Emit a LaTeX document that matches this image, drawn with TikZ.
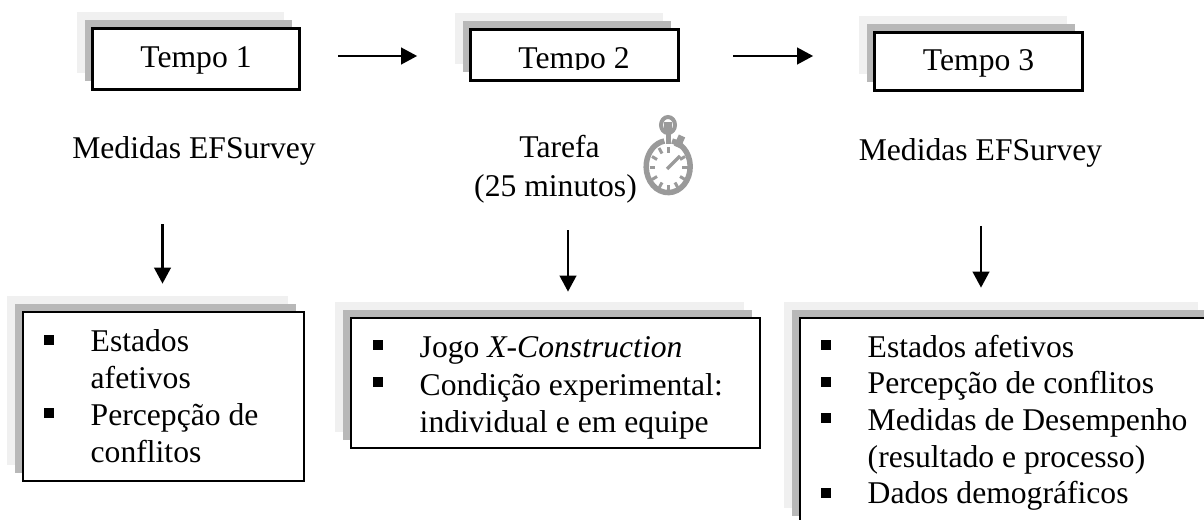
\documentclass[tikz,border=0pt]{standalone}
\usepackage{fontspec}
\setmainfont{Liberation Serif}
\usetikzlibrary{arrows.meta,shadows}

\definecolor{cinzaclaro}{HTML}{F0F0F0}
\definecolor{cinzaescuro}{HTML}{B8B8B8}
\definecolor{cinzarelogio}{HTML}{9A9A9A}

\tikzset{
  caixa/.style={draw=black, fill=white, line width=.027cm, inner sep=0pt,
    general shadow={fill=cinzaclaro, shadow xshift=-.16cm, shadow yshift=.16cm},
    general shadow={fill=cinzaescuro, shadow xshift=-.08cm, shadow yshift=.08cm}},
  rotulo/.style={anchor=base, inner sep=0pt, font=\fontsize{9}{10.4}\selectfont},
  item/.style={anchor=base west, inner sep=0pt, align=left, font=\fontsize{9}{10.4}\selectfont},
  bala/.style={fill=black, inner sep=0pt, minimum size=.1cm},
  seta/.style={-{Triangle[length=.16cm,width=.165cm]}, line width=.025cm},
  relogio/.style={draw=cinzarelogio, line width=.03cm}
}

\begin{document}
\begin{tikzpicture}
\clip (0,0) rectangle (12.04,-5.2);

%Tempos
\node (t1) [caixa, minimum width=2.07cm, minimum height=.61cm] at (1.96,-.59) {};
\node (t2) [caixa, minimum width=2.08cm, minimum height=.51cm] at (5.745,-.55) {};
\node (t3) [caixa, minimum width=2.08cm, minimum height=.58cm] at (9.785,-.615) {};

\node (r1) [rotulo] at (1.96,-.68) {Tempo 1};
\begin{scope}
\clip (t2.north west) rectangle ([yshift=.12cm]t2.south east);
\node (r2) [rotulo] at (5.74,-.69) {Tempo 2};
\end{scope}
\node (r3) [rotulo] at (9.785,-.71) {Tempo 3};

\node (m1) [rotulo] at (1.94,-1.59) {Medidas EFSurvey};
\node (m2) [rotulo] at (5.595,-1.57) {Tarefa};
\node (m4) [rotulo] at (5.555,-1.96) {(25 minutos)};
\node (m3) [rotulo] at (9.805,-1.61) {Medidas EFSurvey};

%Relogio
\draw[relogio, line width=.055cm] (6.72,-1.41) arc (80:-260:.22 and .26);
\draw[relogio, line width=.04cm] (6.68,-1.25) ellipse (.07 and .08);
\fill[cinzarelogio] (6.64,-1.22) rectangle (6.72,-1.30);
\fill[cinzarelogio] (6.655,-1.30) rectangle (6.705,-1.44);
\draw[relogio, line width=.07cm] (6.77,-1.47) -- (6.82,-1.36);
\draw[relogio, line width=.035cm] (6.67,-1.69) -- (6.80,-1.56);

\draw[relogio] (6.875,-1.68) -- (6.82,-1.68);
\draw[relogio] (6.495,-1.68) -- (6.55,-1.68);
\draw[relogio] (6.685,-1.47) -- (6.685,-1.53);
\draw[relogio] (6.685,-1.91) -- (6.685,-1.85);
\draw[relogio] (6.85,-1.565) -- (6.80,-1.595);
\draw[relogio] (6.52,-1.565) -- (6.57,-1.595);
\draw[relogio] (6.85,-1.795) -- (6.80,-1.765);
\draw[relogio] (6.52,-1.795) -- (6.57,-1.765);
\draw[relogio] (6.59,-1.48) -- (6.62,-1.535);
\draw[relogio] (6.78,-1.88) -- (6.75,-1.825);
\draw[relogio] (6.59,-1.88) -- (6.62,-1.825);

%Caixas de baixo
\node (b1) [caixa, minimum width=2.81cm, minimum height=1.69cm] at (1.635,-3.965) {};
\node (b2) [caixa, minimum width=4.09cm, minimum height=1.30cm] at (5.555,-3.83) {};
\node (b3) [caixa, minimum width=4.14cm, minimum height=2.06cm] at (10.07,-4.21) {};

\node (a1) [bala] at (.49,-3.40) {};
\node (a2) [bala] at (.49,-4.13) {};
\node (i1) [item] at (.90,-3.88) {Estados\\afetivos};
\node (i2) [item] at (.90,-4.62) {Percepção de\\conflitos};

\node (c1) [bala] at (3.78,-3.45) {};
\node (c2) [bala] at (3.78,-3.82) {};
\node (j1) [item] at (4.19,-3.57) {Jogo \textit{X-Construction}};
\node (j2) [item] at (4.19,-4.32) {Condição experimental:\\individual e em equipe};

\node (d1) [bala] at (8.26,-3.45) {};
\node (d2) [bala] at (8.26,-3.82) {};
\node (d3) [bala] at (8.26,-4.18) {};
\node (d4) [bala] at (8.26,-4.93) {};
\node (k1) [item] at (8.67,-3.57) {Estados afetivos};
\node (k2) [item] at (8.67,-3.93) {Percepção de conflitos};
\node (k3) [item] at (8.67,-4.67) {Medidas de Desempenho\\(resultado e processo)};
\node (k4) [item] at (8.67,-5.03) {Dados demográficos};

%Setas
\coordinate (s1) at (3.38,-.56);
\coordinate (s2) at (7.33,-.56);
\coordinate (s3) at (1.625,-2.24);
\coordinate (s4) at (5.68,-2.30);
\coordinate (s5) at (9.81,-2.26);

\draw[seta, shorten >=.52cm] (s1) -- (s1 -| t2.west);
\draw[seta, shorten >=.60cm] (s2) -- (s2 -| t3.west);
\draw[seta, shorten >=.27cm] (s3) -- (s3 |- b1.north);
\draw[seta, shorten >=.25cm] (s4) -- (s4 |- b2.north);
\draw[seta, shorten >=.29cm] (s5) -- (s5 |- b3.north);

\end{tikzpicture}
\end{document}
